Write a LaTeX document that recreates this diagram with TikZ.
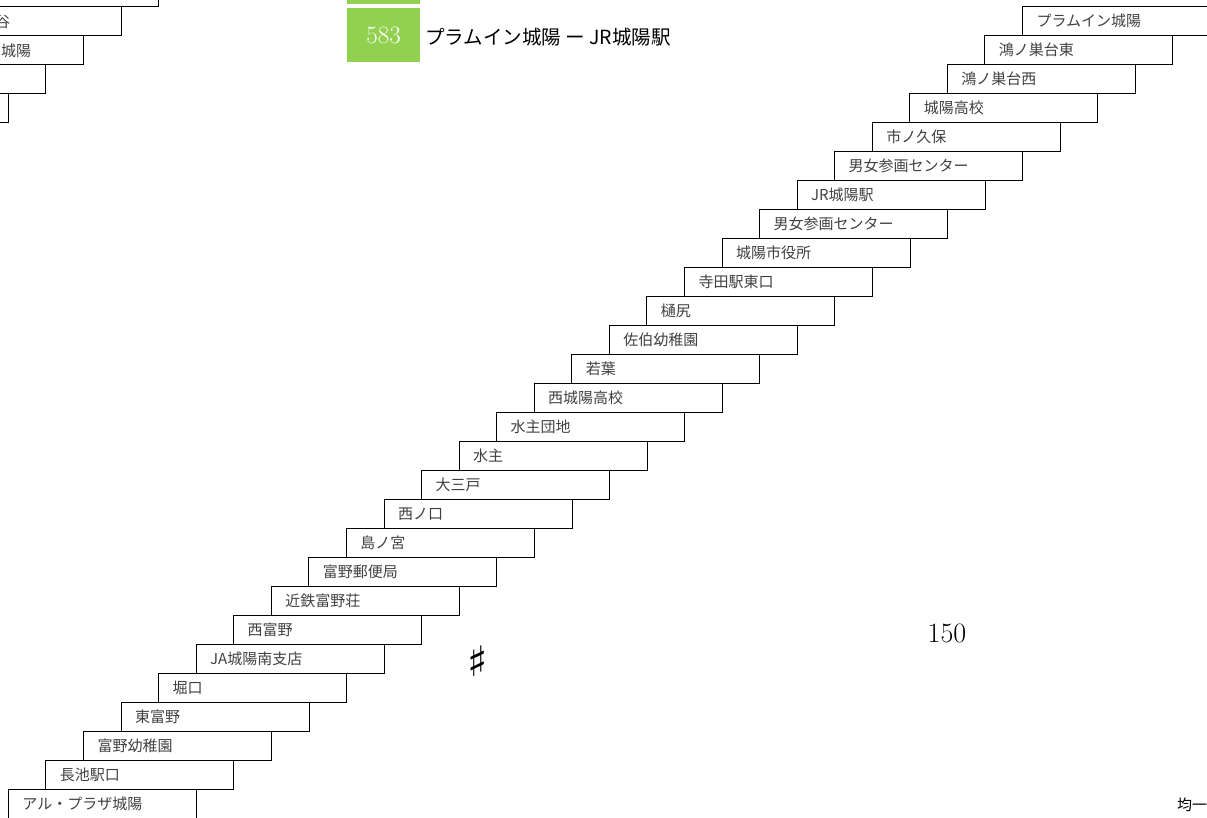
\documentclass[tikz,border=0pt]{standalone}
\usepackage{fontspec}
\newfontfamily\jp{Noto Sans CJK JP}
\newfontfamily\sym{DejaVu Sans}
\usepackage{tikz}
\usetikzlibrary{positioning}
\definecolor{routegreen}{HTML}{92D050}
\definecolor{stoptext}{HTML}{404040}
\tikzset{
  stopbox/.style={draw, line width=1pt, anchor=north west, minimum height=29pt,
    text width=160pt, inner xsep=14pt, inner ysep=0pt, align=left, text=stoptext,
    font=\jp\fontsize{15}{16}\selectfont},
  numbox/.style={fill=routegreen, anchor=north west, minimum width=73pt, minimum height=54pt,
    inner sep=0pt, text=white, font=\fontsize{25}{27}\selectfont}
}
\begin{document}
\begin{tikzpicture}[x=1pt,y=-1pt]
\useasboundingbox (0,0) rectangle (1207,818);
\clip (0,0) rectangle (1207,818);
% previous route, cut off
\fill[routegreen] (347,-2) rectangle (420,4);
\node[stopbox] (p1) at (-30,-23) {};
\node[stopbox] (p2) at (-67,6) {};
\node[stopbox] (p3) at (-105,35) {};
\node[stopbox] (p4) at (-143,64) {};
\node[stopbox] (p5) at (-180,93) {};
\node[anchor=west, inner sep=0pt, text=stoptext, font=\jp\fontsize{15}{16}\selectfont] (p2lbl) at (-5,21.5) {谷};
\node[anchor=west, inner sep=0pt, text=stoptext, font=\jp\fontsize{15}{16}\selectfont] (p3lbl) at (1,50.5) {城陽};
% route 583
\node[numbox] (num) at (347,8) {583};
\node[anchor=west, inner sep=0pt, font=\jp\fontsize{19.5}{21}\selectfont] (title) at (425,37) {プラムイン城陽 ー JR城陽駅};
\node[stopbox] (s1) at (1022,6) {プラムイン城陽};
\node[stopbox] (s2) at (984.4,35) {鴻ノ巣台東};
\node[stopbox] (s3) at (946.9,64) {鴻ノ巣台西};
\node[stopbox] (s4) at (909.3,93) {城陽高校};
\node[stopbox] (s5) at (871.8,122) {市ノ久保};
\node[stopbox] (s6) at (834.2,151) {男女参画センター};
\node[stopbox] (s7) at (796.6,180) {JR城陽駅};
\node[stopbox] (s8) at (759.1,209) {男女参画センター};
\node[stopbox] (s9) at (721.5,238) {城陽市役所};
\node[stopbox] (s10) at (684.0,267) {寺田駅東口};
\node[stopbox] (s11) at (646.4,296) {樋尻};
\node[stopbox] (s12) at (608.8,325) {佐伯幼稚園};
\node[stopbox] (s13) at (571.3,354) {若葉};
\node[stopbox] (s14) at (533.7,383) {西城陽高校};
\node[stopbox] (s15) at (496.2,412) {水主団地};
\node[stopbox] (s16) at (458.6,441) {水主};
\node[stopbox] (s17) at (421.0,470) {大三戸};
\node[stopbox] (s18) at (383.5,499) {西ノ口};
\node[stopbox] (s19) at (345.9,528) {島ノ宮};
\node[stopbox] (s20) at (308.4,557) {富野郵便局};
\node[stopbox] (s21) at (270.8,586) {近鉄富野荘};
\node[stopbox] (s22) at (233.2,615) {西富野};
\node[stopbox] (s23) at (195.7,644) {JA城陽南支店};
\node[stopbox] (s24) at (158.1,673) {堀口};
\node[stopbox] (s25) at (120.6,702) {東富野};
\node[stopbox] (s26) at (83.0,731) {富野幼稚園};
\node[stopbox] (s27) at (45.4,760) {長池駅口};
\node[stopbox] (s28) at (7.9,789) {アル・プラザ城陽};
% marks
\node[font=\sym\bfseries\fontsize{42}{42}\selectfont] (sharp) at (478,661) {♯};
\node[font=\fontsize{28}{30}\selectfont] (fare) at (947,633) {150};
\node[anchor=west, inner sep=0pt, font=\jp\fontsize{15}{16}\selectfont] (flat) at (1177,805) {均一};
\end{tikzpicture}
\end{document}
